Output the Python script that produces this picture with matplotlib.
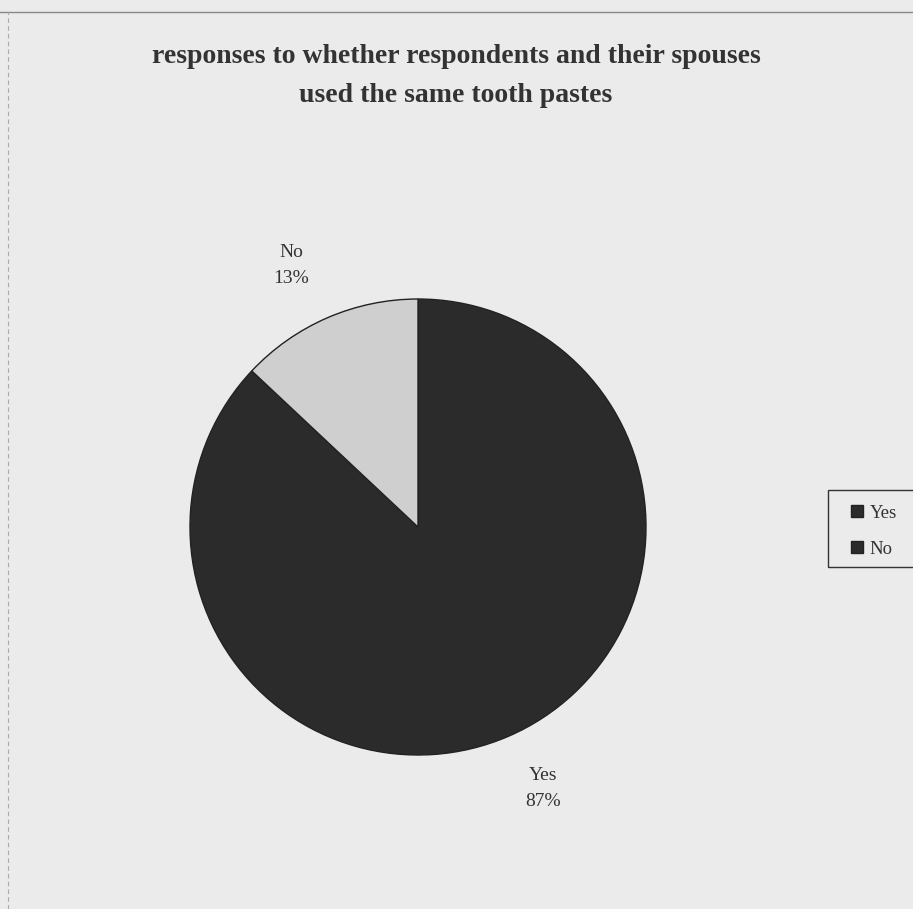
import matplotlib
matplotlib.use("Agg")
import matplotlib.pyplot as plt
from matplotlib.lines import Line2D
from matplotlib.patches import Patch, Rectangle

categories = ["Yes", "No"]
values = [87, 13]
colors = ["#2b2b2b", "#cfcfcf"]
title = "responses to whether respondents and their spouses\nused the same tooth pastes"

W, H = 913, 909
fig = plt.figure(figsize=(W / 100, H / 100), dpi=100, facecolor="#ebebeb")
plt.rcParams['font.family'] = ['Liberation Serif', 'DejaVu Serif']

cx, cy, R = 418, 527, 228
ax = fig.add_axes([(cx - R) / W, (H - cy - R) / H, 2 * R / W, 2 * R / H])
ax.set_facecolor("none")
labels = [f"{c}\n{v}%" for c, v in zip(categories, values)]
wedges, texts = ax.pie(values, colors=colors, startangle=90, counterclock=False,
                       labels=labels, labeldistance=1.25,
                       wedgeprops=dict(edgecolor="#222222", linewidth=1.0),
                       textprops=dict(fontsize=14, color="#333333", linespacing=1.75))
for t in texts:
    t.set_ha("center")
    t.set_va("center")
    x, y = t.get_position()
    t.set_position((x + (0.05 if x > 0 else -0.06), y))
ax.set_xlim(-1, 1)
ax.set_ylim(-1, 1)
ax.set_aspect("equal")

fig.text(456 / W, 1 - 76 / H, title, ha="center", va="center", fontsize=20,
         fontweight="bold", color="#333333", linespacing=1.75)

# frame lines
fig.add_artist(Line2D([0, 1], [1 - 12 / H, 1 - 12 / H], color="#888888", lw=1))
fig.add_artist(Line2D([8 / W, 8 / W], [0, 1 - 12 / H], color="#aaaaaa", lw=0.8, ls=(0, (4, 3))))

# legend frame extending past the right edge
fig.add_artist(Rectangle((828 / W, 1 - 567 / H), 100 / W, 77 / H, transform=fig.transFigure,
                         facecolor="none", edgecolor="#333333", lw=1.0))
handles = [Patch(facecolor="#2b2b2b", edgecolor="#222222", label=cat) for cat in categories]
leg = fig.legend(handles=handles, loc="upper left", bbox_to_anchor=(832 / W, 1 - 486 / H),
                 fontsize=13.5, frameon=False, handlelength=0.65, handleheight=0.65,
                 handletextpad=0.35, labelspacing=1.0, borderpad=0.5)
for t in leg.get_texts():
    t.set_color("#333333")

fig.savefig("out.png", dpi=100, facecolor=fig.get_facecolor())
